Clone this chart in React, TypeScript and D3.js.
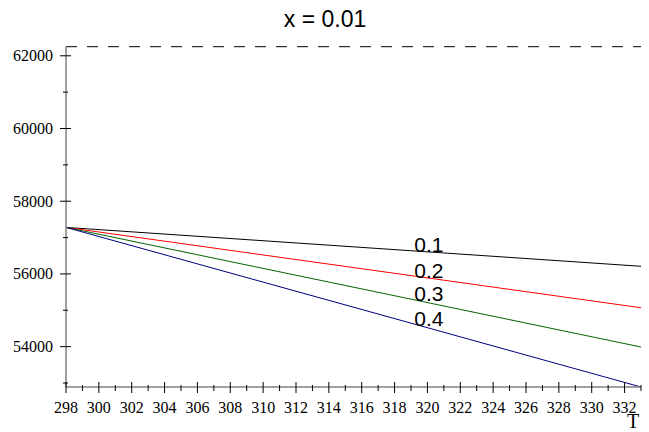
import React from "react";
import * as d3 from "d3";

const W = 649;
const H = 432;

// Temperature range and the two end points of every curve
const tRange = [298, 333];
const seriesNames = ["0.1", "0.2", "0.3", "0.4"];
const startValues = [57280, 57280, 57280, 57280];
const endValues = [56210, 55070, 53990, 52890];
const seriesColors = ["#000000", "#ff0000", "#006400", "#000080"];

const xTicks = d3.range(298, 333, 2);
const xMinor = d3.range(299, 334, 2);
const yTicks = [54000, 56000, 58000, 60000, 62000];
const yMinor = [53000, 55000, 57000, 59000, 61000];
const asymptote = 62250;
const labelT = 319.2;

const SERIF = "'Liberation Serif', 'Times New Roman', serif";
const SANS = "'Liberation Sans', Arial, sans-serif";

export default function App() {
  const m = { left: 66, right: 8, top: 46.7, bottom: 45 };
  const x = d3.scaleLinear().domain(tRange).range([m.left, W - m.right]);
  const y = d3.scaleLinear().domain([52890, 62250]).range([H - m.bottom, m.top]);
  const x0 = m.left;
  const y0 = H - m.bottom;
  const line = d3
    .line<[number, number]>()
    .x((d) => x(d[0]))
    .y((d) => y(d[1]));

  const valueAt = (i: number, t: number) =>
    startValues[i] + ((endValues[i] - startValues[i]) * (t - tRange[0])) / (tRange[1] - tRange[0]);

  return (
    <svg
      width={W}
      height={H}
      style={{ position: "absolute", left: 0, top: 0, background: "#fff" }}
    >
      <text x={325} y={27} textAnchor="middle" fontFamily={SANS} fontSize={23}>
        x = 0.01
      </text>

      {/* asymptote */}
      <line
        x1={x0}
        x2={W - m.right}
        y1={y(asymptote)}
        y2={y(asymptote)}
        stroke="#000"
        strokeWidth={1}
        strokeDasharray="11,10"
      />

      {/* curves */}
      {seriesNames.map((n, i) => (
        <path
          key={n}
          d={line([
            [tRange[0], startValues[i]],
            [tRange[1], endValues[i]],
          ]) || ""}
          fill="none"
          stroke={seriesColors[i]}
          strokeWidth={1}
        />
      ))}

      {/* axes */}
      <line x1={x0} x2={x0} y1={m.top} y2={y0} stroke="#808080" strokeWidth={1.5} />
      <line x1={x0} x2={W - m.right} y1={y0} y2={y0} stroke="#808080" strokeWidth={1.5} />

      {yTicks.map((v) => (
        <g key={v}>
          <line x1={x0 - 6} x2={x0 + 5} y1={y(v)} y2={y(v)} stroke="#000" />
          <text x={53} y={y(v) + 5.5} textAnchor="end" fontFamily={SERIF} fontSize={16}>
            {v}
          </text>
        </g>
      ))}
      {yMinor.map((v) => (
        <line key={v} x1={x0 - 3} x2={x0 + 2} y1={y(v)} y2={y(v)} stroke="#000" />
      ))}

      {xTicks.map((v) => (
        <g key={v}>
          <line x1={x(v)} x2={x(v)} y1={y0 - 5} y2={y0 + 6} stroke="#000" />
          <text x={x(v)} y={413} textAnchor="middle" fontFamily={SERIF} fontSize={16}>
            {v}
          </text>
        </g>
      ))}
      {xMinor.map((v) => (
        <line key={v} x1={x(v)} x2={x(v)} y1={y0 - 2} y2={y0 + 4} stroke="#000" />
      ))}

      <text x={633} y={428} textAnchor="middle" fontFamily={SERIF} fontSize={20}>
        T
      </text>

      {/* curve labels */}
      {seriesNames.map((n, i) => (
        <text
          key={n}
          x={x(labelT)}
          y={y(valueAt(i, labelT)) + 1.5}
          fontFamily={SANS}
          fontSize={21}
          fill="#000"
        >
          {n}
        </text>
      ))}
    </svg>
  );
}
